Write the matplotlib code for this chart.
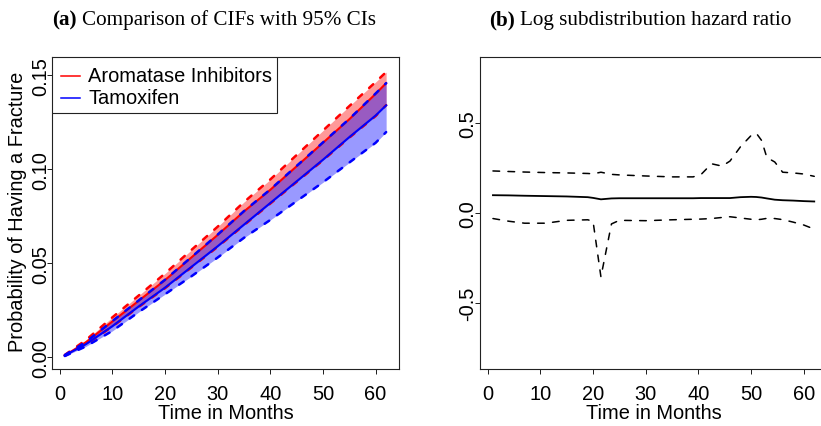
import matplotlib
matplotlib.use("Agg")
import matplotlib.pyplot as plt
from matplotlib.lines import Line2D
from matplotlib.patches import Rectangle

plt.rcParams['font.family'] = ['Liberation Sans', 'DejaVu Sans']
plt.rcParams['lines.scale_dashes'] = False

# ---- (a) cumulative incidence functions with 95% confidence bands ----
months = [1, 5, 10, 15, 20, 25, 30, 35, 40, 45, 50, 55, 60, 62]
ai_cif = [0.0010, 0.0080, 0.0190, 0.0300, 0.0410, 0.0530, 0.0650, 0.0775,
          0.0890, 0.1015, 0.1140, 0.1265, 0.1400, 0.1457]
ai_upper = [0.0013, 0.0092, 0.0212, 0.0328, 0.0445, 0.0570, 0.0694, 0.0825,
            0.0945, 0.1075, 0.1205, 0.1335, 0.1463, 0.1516]
ai_lower = [0.0008, 0.0068, 0.0163, 0.0267, 0.0367, 0.0477, 0.0587, 0.0702,
            0.0817, 0.0932, 0.1047, 0.1167, 0.1282, 0.1340]
tam_cif = [0.0010, 0.0070, 0.0165, 0.0270, 0.0370, 0.0480, 0.0590, 0.0705,
           0.0820, 0.0935, 0.1050, 0.1170, 0.1285, 0.1339]
tam_upper = [0.0012, 0.0082, 0.0192, 0.0302, 0.0412, 0.0532, 0.0652, 0.0777,
             0.0892, 0.1017, 0.1142, 0.1267, 0.1402, 0.1457]
tam_lower = [0.0007, 0.0058, 0.0140, 0.0240, 0.0335, 0.0430, 0.0530, 0.0635,
             0.0730, 0.0830, 0.0930, 0.1035, 0.1140, 0.1197]
group_labels = ["Aromatase Inhibitors", "Tamoxifen"]

# ---- (b) log subdistribution hazard ratio with pointwise 95% limits ----
hr_months = [1, 4, 7, 11, 15, 19, 20, 21.5, 23.5, 25, 30, 35, 39, 40.5, 42.5,
             44.5, 46, 48, 50, 51, 52, 53, 54.5, 56, 58, 60, 62]
log_shr = [0.100, 0.099, 0.097, 0.095, 0.093, 0.089, 0.085, 0.077, 0.082,
           0.083, 0.083, 0.083, 0.083, 0.084, 0.084, 0.084, 0.084, 0.089,
           0.091, 0.090, 0.087, 0.082, 0.075, 0.072, 0.070, 0.067, 0.065]
log_shr_upper = [0.235, 0.232, 0.229, 0.226, 0.224, 0.221, 0.219, 0.228,
                 0.216, 0.213, 0.207, 0.202, 0.202, 0.215, 0.275, 0.262,
                 0.290, 0.370, 0.432, 0.445, 0.405, 0.310, 0.285, 0.228,
                 0.224, 0.218, 0.205]
log_shr_lower = [-0.030, -0.045, -0.056, -0.056, -0.040, -0.037, -0.045,
                 -0.355, -0.060, -0.040, -0.042, -0.037, -0.034, -0.033,
                 -0.030, -0.024, -0.020, -0.027, -0.034, -0.037, -0.034,
                 -0.029, -0.030, -0.036, -0.050, -0.066, -0.089]

W, H = 821, 427
fig = plt.figure(figsize=(W / 100, H / 100), dpi=100)


def px_axes(x0, x1, y0, y1):
    return fig.add_axes([x0 / W, 1 - y1 / H, (x1 - x0) / W, (y1 - y0) / H])


ax1 = px_axes(52, 399, 58, 370)
ax2 = px_axes(480.1, 827.1, 58.3, 370)

FS = 14.4
dash_a = (0, (4.0, 6.8))
dash_b = (0, (4.8, 6.0))

# panel (a)
ax1.fill_between(months, ai_lower, ai_upper, color=(1, 0, 0, 0.4), lw=0)
ax1.plot(months, ai_cif, color='red', lw=1.5)
ax1.plot(months, ai_upper, color='red', lw=1.8, ls=dash_a, dash_capstyle='round')
ax1.plot(months, ai_lower, color='red', lw=1.8, ls=dash_a, dash_capstyle='round')
ax1.fill_between(months, tam_lower, tam_upper, color=(0, 0, 1, 0.4), lw=0)
ax1.plot(months, tam_cif, color='blue', lw=1.5)
ax1.plot(months, tam_upper, color='blue', lw=1.8, ls=dash_a, dash_capstyle='round')
ax1.plot(months, tam_lower, color='blue', lw=1.8, ls=dash_a, dash_capstyle='round')
ax1.set_xlim(-1.44, 64.44)
ax1.set_ylim(-0.0062, 0.1596)
ax1.set_yticks([0.0, 0.05, 0.10, 0.15])
ax1.set_yticklabels(["0.00", "0.05", "0.10", "0.15"])

# panel (b)
ax2.plot(hr_months, log_shr, color='black', lw=1.3)
ax2.plot(hr_months, log_shr_upper, color='black', lw=1.1, ls=dash_b, dash_capstyle='round')
ax2.plot(hr_months, log_shr_lower, color='black', lw=1.1, ls=dash_b, dash_capstyle='round')
ax2.set_xlim(-1.44, 64.44)
ax2.set_ylim(-0.868, 0.868)
ax2.set_yticks([-0.5, 0.0, 0.5])
ax2.set_yticklabels(["-0.5", "0.0", "0.5"])

for ax, ypad, xc in ((ax1, 0.2, 225.5), (ax2, 1.3, 653.6)):
    ax.set_xticks([0, 10, 20, 30, 40, 50, 60])
    for s in ax.spines.values():
        s.set_color('#222222')
        s.set_linewidth(0.8)
    ax.tick_params(axis='both', length=3.6, width=0.72, labelsize=FS, color='#222222')
    ax.tick_params(axis='x', pad=18)
    ax.tick_params(axis='y', pad=ypad)
    for lab in ax.get_xticklabels():
        lab.set_va('baseline')
    for lab in ax.get_yticklabels():
        lab.set_rotation(90)
        lab.set_rotation_mode('anchor')
        lab.set_ha('center')
        lab.set_va('baseline')
    fig.text(xc / W, 1 - 419.5 / H, "Time in Months", ha='center',
             va='baseline', fontsize=FS)

fig.text(22.6 / W, 1 - 211.7 / H, "Probability of Having a Fracture", rotation=90,
         rotation_mode='anchor', ha='center', va='baseline', fontsize=FS)

# legend box for panel (a)
ax1.add_patch(Rectangle((0.0, 0.8196), 0.6476, 0.1804, transform=ax1.transAxes,
                        facecolor='white', edgecolor='#222222', lw=0.8, zorder=5))
for color, label, yl, yb in (("red", group_labels[0], 0.940, 0.924),
                             ("blue", group_labels[1], 0.8696, 0.8516)):
    ax1.add_line(Line2D([0.0251, 0.0807], [yl, yl], transform=ax1.transAxes,
                        color=color, lw=1.1, zorder=6))
    ax1.text(0.1046, yb, label, transform=ax1.transAxes, fontsize=FS,
             va='baseline', ha='left', zorder=6)

# panel titles: bold tag followed by the caption
serif = ['Liberation Serif', 'DejaVu Serif']
TFS = 15.2
base_y = 1 - 25 / H
for tag, caption, x_caption in (("(a)", "Comparison of CIFs with 95% CIs", 81.7),
                                ("(b)", "Log subdistribution hazard ratio", 520.0)):
    fig.text((x_caption - 5.5) / W, base_y, tag, fontweight='bold', family=serif,
             fontsize=TFS, va='baseline', ha='right')
    fig.text(x_caption / W, base_y, caption, family=serif, fontsize=TFS,
             va='baseline', ha='left')

fig.savefig("out.png", dpi=100)
